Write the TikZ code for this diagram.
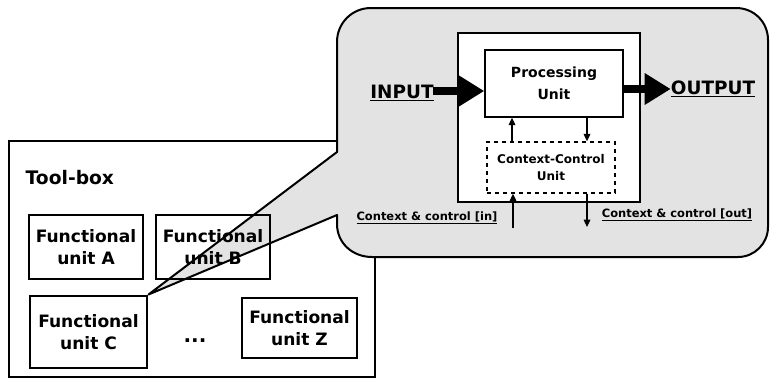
\documentclass[tikz,border=0pt]{standalone}
\usepackage{fontspec}
\setmainfont{DejaVu Sans}
\usetikzlibrary{arrows.meta}
\begin{document}
\begin{tikzpicture}[x=0.75pt,y=-0.75pt,
  unitfont/.style={font=\bfseries\fontsize{12.8}{16.5}\selectfont, align=center},
  unitbox/.style={draw, line width=1.1pt, unitfont, inner sep=0pt, fill=white},
  bigtext/.style={font=\bfseries\fontsize{13.8}{16}\selectfont},
  smalltext/.style={font=\bfseries\fontsize{8.6}{10}\selectfont, inner sep=0pt},
  fatarrow/.style={line width=5.4pt, -{Triangle[length=19.5pt,width=22.5pt]}},
  thinarrow/.style={line width=0.9pt, -{Triangle[length=5.5pt,width=5pt]}},
  calloutfill/.style={fill=black!11},
  calloutline/.style={draw, line width=1.5pt, line join=round}]
\useasboundingbox (0,0) rectangle (770,379);

% tool-box frame
\draw[line width=1.5pt] (9,141) rectangle (375,377);
\node[bigtext, anchor=west, font=\bfseries\fontsize{14}{16}\selectfont] (tb) at (21,178) {Tool-box};

% unit C (tip of the callout)
\node[unitbox, minimum width=87.75pt, minimum height=54pt, line width=2.2pt] (C) at (88.5,332) {Functional\\unit C};

% callout shape (fill)
\def\calloutpath{(337,152) -- (337,42) .. controls (337,23) and (352,8) .. (371,8)
  -- (736,8) .. controls (754,8) and (768,22) .. (768,40)
  -- (768,227) .. controls (768,243.5) and (754.5,257) .. (738,257)
  -- (372,257) .. controls (353,257) and (337,243.5) .. (337,224)
  -- (337,215) -- (C.north east) -- cycle}
\path[calloutfill] \calloutpath;

% functional units
\node[unitbox, minimum width=85.5pt, minimum height=48pt] (A) at (86,247) {Functional\\unit A};
\node[unitbox, minimum width=85.5pt, minimum height=48pt, fill=none] (B) at (213,247) {Functional\\unit B};
\node[unitbox, minimum width=86.25pt, minimum height=45pt] (Z) at (299.5,328) {Functional\\unit Z};
\node[font=\bfseries\fontsize{15}{16}\selectfont] (dots) at (195,341) {...};

% callout outline
\path[calloutline] \calloutpath;

% processing block
\draw[line width=1.3pt, fill=white] (458,33) rectangle (640,202);
\node[draw, line width=1.1pt, minimum width=103.5pt, minimum height=50.25pt,
  font=\bfseries\fontsize{10.5}{16.5}\selectfont, align=center] (pu) at (554,83.5) {Processing\\Unit};
\node[draw, dashed, line width=1.1pt, minimum width=96pt, minimum height=38.25pt,
  font=\bfseries\fontsize{9}{12.75}\selectfont, align=center] (cc) at (551,167.5) {Context-Control\\Unit};

\coordinate (xl) at (512,0);
\coordinate (xr) at (587,0);
\draw[thinarrow] (cc.north -| xl) -- (pu.south -| xl);
\draw[thinarrow] (pu.south -| xr) -- (cc.north -| xr);

\coordinate (cin) at (513,228);
\coordinate (cout) at (587,227);
\draw[thinarrow] (cin) -- (cc.south -| cin);
\draw[thinarrow] (cc.south -| cout) -- (cout);

\node[smalltext] (ccin) at (427,218) {\underline{Context \& control [in]}};
\node[smalltext] (ccout) at (677,215) {\underline{Context \& control [out]}};

% input / output
\node[bigtext, inner sep=0pt] (in) at (402,93) {\underline{INPUT}};
\node[bigtext, inner sep=0pt] (out) at (713,89) {\underline{OUTPUT}};
\coordinate (inS) at (433,91);
\draw[fatarrow] (inS) -- (pu.west |- inS);
\coordinate (outS) at (0,89);
\draw[fatarrow] (pu.east |- outS) -- (out.west |- outS);
\end{tikzpicture}
\end{document}
